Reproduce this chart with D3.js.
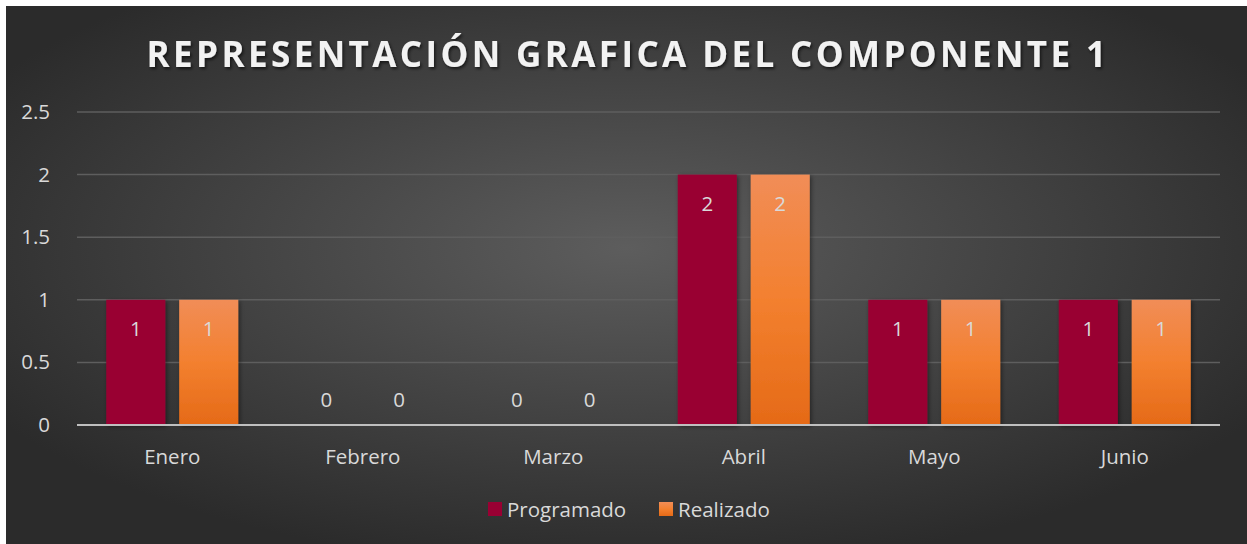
<!DOCTYPE html>
<html>
<head>
<meta charset="utf-8">
<script src="https://cdnjs.cloudflare.com/ajax/libs/d3/7.8.5/d3.min.js"></script>
<style>
  body { margin: 0; background: #fff; }
  svg { display: block; }
</style>
</head>
<body>
<svg></svg>
<script>
var width = 1247,
    height = 544;

var months = ["Enero", "Febrero", "Marzo", "Abril", "Mayo", "Junio"];
var programado = [1, 0, 0, 2, 1, 1];
var realizado = [1, 0, 0, 2, 1, 1];
var yTicks = [0, 0.5, 1, 1.5, 2, 2.5];
var seriesNames = ["Programado", "Realizado"];

var margin = { left: 77, right: 27, top: 112, bottom: 119 };
var labelFont = "'Open Sans', sans-serif";
var labelSize = "20.5px";

var svg = d3.select("svg")
    .attr("width", width)
    .attr("height", height);

var defs = svg.append("defs");

var bg = defs.append("radialGradient")
    .attr("id", "bg")
    .attr("cx", "50%").attr("cy", "45%").attr("r", "60%");
bg.append("stop").attr("offset", "0%").attr("stop-color", "#5d5d5d");
bg.append("stop").attr("offset", "100%").attr("stop-color", "#2b2b2b");

var orange = defs.append("linearGradient")
    .attr("id", "orange")
    .attr("x1", 0).attr("y1", 0).attr("x2", 0).attr("y2", 1);
orange.append("stop").attr("offset", "0%").attr("stop-color", "#f18d57");
orange.append("stop").attr("offset", "50%").attr("stop-color", "#f3802f");
orange.append("stop").attr("offset", "100%").attr("stop-color", "#e56a17");

var shadow = defs.append("filter").attr("id", "shadow")
    .attr("x", "-20%").attr("y", "-20%").attr("width", "140%").attr("height", "140%");
shadow.append("feDropShadow")
    .attr("dx", 1.5).attr("dy", 1.5).attr("stdDeviation", 2)
    .attr("flood-color", "#000").attr("flood-opacity", 0.45);

var tshadow = defs.append("filter").attr("id", "tshadow")
    .attr("x", "-5%").attr("y", "-30%").attr("width", "110%").attr("height", "160%");
tshadow.append("feDropShadow")
    .attr("dx", 1.5).attr("dy", 2).attr("stdDeviation", 1.5)
    .attr("flood-color", "#000").attr("flood-opacity", 0.6);

// chart area
svg.append("rect")
    .attr("x", 6).attr("y", 6)
    .attr("width", width - 6).attr("height", height - 6)
    .attr("fill", "url(#bg)");

svg.append("text")
    .attr("x", 628)
    .attr("y", 67)
    .attr("text-anchor", "middle")
    .attr("fill", "#f2f2f2")
    .attr("filter", "url(#tshadow)")
    .style("font-family", labelFont)
    .style("font-weight", "bold")
    .style("font-size", "35px")
    .style("letter-spacing", "3.4px")
    .text("REPRESENTACIÓN GRAFICA DEL COMPONENTE 1");

var x0 = d3.scaleBand()
    .domain(months)
    .range([margin.left, width - margin.right]);

var x1 = d3.scaleBand()
    .domain(seriesNames)
    .range([0, 132])
    .paddingInner(0.19);

var y = d3.scaleLinear()
    .domain([0, 2.5])
    .range([height - margin.bottom, margin.top]);

// gridlines
svg.append("g")
    .selectAll("line")
    .data(yTicks.filter(function (d) { return d > 0; }))
    .enter()
    .append("line")
    .attr("x1", margin.left).attr("x2", width - margin.right)
    .attr("y1", function (d) { return y(d); })
    .attr("y2", function (d) { return y(d); })
    .attr("stroke", "#5e5e5e")
    .attr("stroke-width", 1.5);

var yAxis = svg.append("g")
    .attr("transform", "translate(" + (margin.left - 24) + ",0)")
    .call(d3.axisLeft(y).tickValues(yTicks).tickSize(0).tickFormat(d3.format("")));
yAxis.select(".domain").remove();
yAxis.selectAll("text")
    .attr("fill", "#d9d9d9")
    .style("font-family", labelFont)
    .style("font-size", labelSize);

var rows = months.map(function (m, i) {
    return { month: m, values: [programado[i], realizado[i]] };
});

var groups = svg.append("g")
    .selectAll("g")
    .data(rows)
    .enter()
    .append("g")
    .attr("transform", function (d) {
        return "translate(" + (x0(d.month) + (x0.bandwidth() - 132) / 2) + ",0)";
    });

function pairs(d) {
    return d.values.map(function (v, j) { return { name: seriesNames[j], value: v }; });
}

groups.selectAll("rect")
    .data(pairs)
    .enter()
    .append("rect")
    .filter(function (d) { return d.value > 0; })
    .attr("x", function (d) { return x1(d.name); })
    .attr("y", function (d) { return y(d.value); })
    .attr("width", x1.bandwidth())
    .attr("height", function (d) { return y(0) - y(d.value); })
    .attr("fill", function (d) { return d.name === "Programado" ? "#990033" : "url(#orange)"; })
    .attr("filter", "url(#shadow)");

groups.selectAll("text")
    .data(pairs)
    .enter()
    .append("text")
    .attr("x", function (d) { return x1(d.name) + x1.bandwidth() / 2; })
    .attr("y", function (d) { return d.value > 0 ? y(d.value) + 36 : y(0) - 18; })
    .attr("text-anchor", "middle")
    .attr("fill", "#d9d9d9")
    .style("font-family", labelFont)
    .style("font-size", labelSize)
    .text(function (d) { return d.value; });

// zero axis
svg.append("line")
    .attr("x1", margin.left).attr("x2", width - margin.right)
    .attr("y1", y(0)).attr("y2", y(0))
    .attr("stroke", "#bfbfbf")
    .attr("stroke-width", 2);

var xAxis = svg.append("g")
    .attr("transform", "translate(0," + (y(0) + 14) + ")")
    .call(d3.axisBottom(x0).tickSize(0));
xAxis.select(".domain").remove();
xAxis.selectAll("text")
    .attr("dy", "1.05em")
    .attr("fill", "#d9d9d9")
    .style("font-family", labelFont)
    .style("font-size", labelSize);

// legend
var legendX = [488, 659];
var legend = svg.append("g")
    .selectAll("g")
    .data(seriesNames)
    .enter()
    .append("g")
    .attr("transform", function (d, i) { return "translate(" + legendX[i] + ",502)"; });

legend.append("rect")
    .attr("width", 14).attr("height", 14)
    .attr("fill", function (d, i) { return i === 0 ? "#990033" : "url(#orange)"; });

legend.append("text")
    .attr("x", 19)
    .attr("y", 15)
    .attr("fill", "#d9d9d9")
    .style("font-family", labelFont)
    .style("font-size", labelSize)
    .text(function (d) { return d; });
</script>
</body>
</html>
